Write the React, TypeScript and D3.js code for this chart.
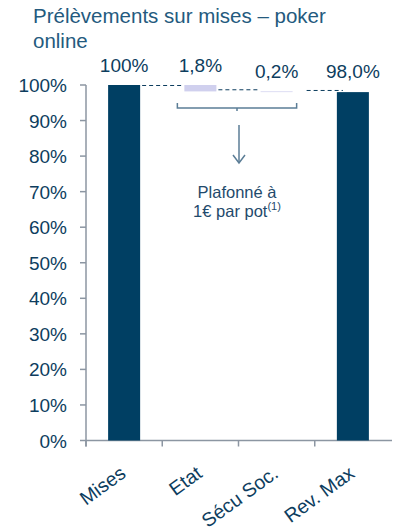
import React from "react";
import * as d3 from "d3";

const categories = ["Mises", "Etat", "Sécu Soc.", "Rev. Max"];
const starts = [0, 98.2, 98.0, 0];
const ends = [100, 100, 98.2, 98.0];
const valueLabels = ["100%", "1,8%", "0,2%", "98,0%"];
const barColors = ["#003f63", "#d0d0ee", "#d0d0ee", "#003f63"];
const yTicks = [0, 10, 20, 30, 40, 50, 60, 70, 80, 90, 100];

export default function App() {
  const W = 393, H = 530;
  const x0 = 86, x1 = 392;
  const y = d3.scaleLinear().domain([0, 100]).range([440.5, 85]);
  const x = d3.scaleBand<string>().domain(categories).range([x0, x1 - 1]).paddingInner(0.58).paddingOuter(0.29);
  const bw = x.bandwidth();
  const bandStep = (x1 - 1 - x0) / categories.length;
  const navy = "#0d3d5e";
  const axisC = "#8c96a2";
  const bracketC = "#5b7d96";
  const font = "Liberation Sans, Arial, sans-serif";

  const connectors = [0, 1, 2].map((i) => ({
    xa: (x(categories[i]) as number) + bw + 2 + (i === 2 ? 12 : 0),
    xb: (x(categories[i + 1]) as number) - 2 + (i === 2 ? 8 : 0),
    v: i === 0 ? ends[0] : starts[i] + 0.6,
  }));

  const bL = (x(categories[1]) as number) - 7;
  const bR = (x(categories[2]) as number) + bw + 4;
  const bY = 108;
  const bMid = (bL + bR) / 2;
  const arrowX = bMid + 2;

  return (
    <svg width={W} height={H} style={{ position: "absolute", left: 0, top: 0 }}>
      <rect width={W} height={H} fill="#fff" />
      <text x={33} y={23} fontFamily={font} fontSize={20.5} fill="#245a7e">Prélèvements sur mises – poker</text>
      <text x={33} y={48} fontFamily={font} fontSize={20.5} fill="#245a7e">online</text>

      {yTicks.map((t) => (
        <g key={t}>
          <line x1={x0 - 6} x2={x0} y1={y(t)} y2={y(t)} stroke={axisC} strokeWidth={1.5} />
          <text x={67} y={y(t) + 7} textAnchor="end" fontFamily={font} fontSize={19} fill={navy}>{t}%</text>
        </g>
      ))}
      <line x1={x0} x2={x0} y1={y(100)} y2={y(0) + 6} stroke={axisC} strokeWidth={1.5} />
      <line x1={x0} x2={x1} y1={y(0)} y2={y(0)} stroke={axisC} strokeWidth={1.5} />
      {[0, 1, 2, 3].map((i) => (
        <line key={i} x1={x0 + i * bandStep} x2={x0 + i * bandStep} y1={y(0)} y2={y(0) + 6} stroke={axisC} strokeWidth={1.5} />
      ))}

      {categories.map((c, i) => (
        <rect key={c} x={x(c)} y={y(ends[i])} width={bw} height={y(starts[i]) - y(ends[i])} fill={barColors[i]} />
      ))}

      {connectors.map((c, i) => (
        <line key={i} x1={c.xa} x2={c.xb} y1={y(c.v) + 0.5} y2={y(c.v) + 0.5} stroke={navy} strokeWidth={1} strokeDasharray="4,3" />
      ))}

      {categories.map((c, i) => (
        <text key={c} x={(x(c) as number) + bw / 2} y={i < 2 ? 72 : 78} textAnchor="middle" fontFamily={font} fontSize={19} fill={navy}>{valueLabels[i]}</text>
      ))}

      <path d={`M${bL},${bY - 5}V${bY}H${bR}V${bY - 5}M${bMid},${bY}V${bY + 3}`} fill="none" stroke={bracketC} strokeWidth={1.5} />
      <line x1={arrowX} x2={arrowX} y1={125} y2={163} stroke={bracketC} strokeWidth={1.5} />
      <path d={`M${arrowX - 6},${155}L${arrowX},${163}L${arrowX + 6},${155}`} fill="none" stroke={bracketC} strokeWidth={1.5} />
      <text x={237} y={198} textAnchor="middle" fontFamily={font} fontSize={16.5} fill="#1f4a6c">Plafonné à</text>
      <text x={237} y={217} textAnchor="middle" fontFamily={font} fontSize={16.5} fill="#1f4a6c">
        1€ par pot<tspan fontSize={11} dy={-7}>(1)</tspan>
      </text>

      {categories.map((c) => {
        const cx = (x(c) as number) + bw / 2 + 3;
        return (
          <text key={c} transform={`translate(${cx},${476}) rotate(-36)`} textAnchor="end" fontFamily={font} fontSize={19.5} fill={navy}>{c}</text>
        );
      })}
    </svg>
  );
}
